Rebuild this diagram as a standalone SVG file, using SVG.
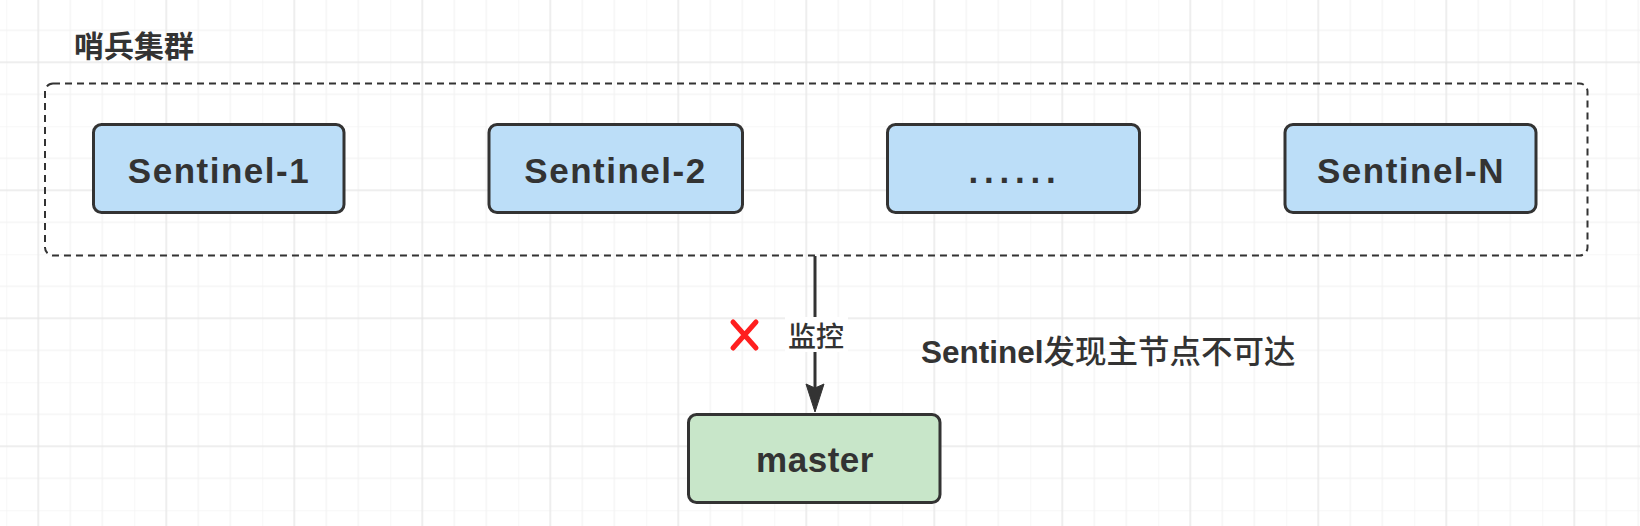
<svg xmlns="http://www.w3.org/2000/svg" width="1640" height="526" viewBox="0 0 1640 526">
<style>
.node{fill:#bcdef8;stroke:#333;stroke-width:3}
.lbl{font-family:"Liberation Sans","Noto Sans CJK SC",sans-serif;font-weight:bold;font-size:35px;fill:#333;text-anchor:middle;letter-spacing:1.5px}
.cjk{font-family:"Noto Sans CJK SC","Liberation Sans",sans-serif;fill:#333}
</style>
<defs>
<pattern id="grid" patternUnits="userSpaceOnUse" x="6.3" y="-1.7" width="128" height="128">
<path d="M0 0V128M32 0V128M64 0V128M96 0V128M0 0H128M0 32H128M0 64H128M0 96H128" stroke="#f0f0f0" stroke-width="1" fill="none"/>
<path d="M32 0V128M0 64H128" stroke="#e4e4e4" stroke-width="1" fill="none"/>
</pattern>
</defs>
<rect width="1640" height="526" fill="#fff"/>
<rect width="1640" height="526" fill="url(#grid)"/>
<g id="cluster">
<rect x="45" y="83.5" width="1542.5" height="172" rx="8" fill="none" stroke="#333" stroke-width="2" stroke-dasharray="7 5"/>
<text class="cjk" x="74" y="57" font-size="30" font-weight="bold">哨兵集群</text>
</g>
<g id="sentinel-1">
<rect class="node" x="93.5" y="124.5" width="250.5" height="88" rx="8"/>
<text class="lbl" x="219" y="182.5">Sentinel-1</text>
</g>
<g id="sentinel-2">
<rect class="node" x="489" y="124.5" width="253.5" height="88" rx="8"/>
<text class="lbl" x="615.5" y="182.5">Sentinel-2</text>
</g>
<g id="sentinel-dots">
<rect class="node" x="887.5" y="124.5" width="252" height="88" rx="8"/>
<text class="lbl" x="1015" y="183" style="letter-spacing:5.8px">......</text>
</g>
<g id="sentinel-n">
<rect class="node" x="1285" y="124.5" width="251" height="88" rx="8"/>
<text class="lbl" x="1411" y="182.5">Sentinel-N</text>
</g>
<g id="master">
<rect x="688.5" y="414.5" width="251.5" height="88" rx="8" fill="#c8e6c9" stroke="#333" stroke-width="3"/>
<text class="lbl" x="815" y="471.5" style="letter-spacing:0.5px">master</text>
</g>
<g id="connectors">
<line x1="815" y1="256" x2="815" y2="390" stroke="#333" stroke-width="3"/>
<polygon points="806,384 815,388 824,384 815,412" fill="#333" stroke="#333" stroke-width="1"/>
<rect x="785" y="317" width="63" height="35" fill="#fff"/>
<text class="cjk" x="816" y="347" font-size="28" font-weight="500" text-anchor="middle">监控</text>
</g>
<g id="cross">
<path d="M733 322L756 348M756 322L733 348" stroke="#ff1f1f" stroke-width="5" stroke-linecap="round" fill="none"/>
</g>
<g id="note">
<text x="921" y="363" font-size="31.5" fill="#333" font-weight="bold" font-family="Liberation Sans,Noto Sans CJK SC,sans-serif">Sentinel<tspan font-family="Noto Sans CJK SC,sans-serif" font-size="31.5" font-weight="500">发现主节点不可达</tspan></text>
</g>
</svg>
